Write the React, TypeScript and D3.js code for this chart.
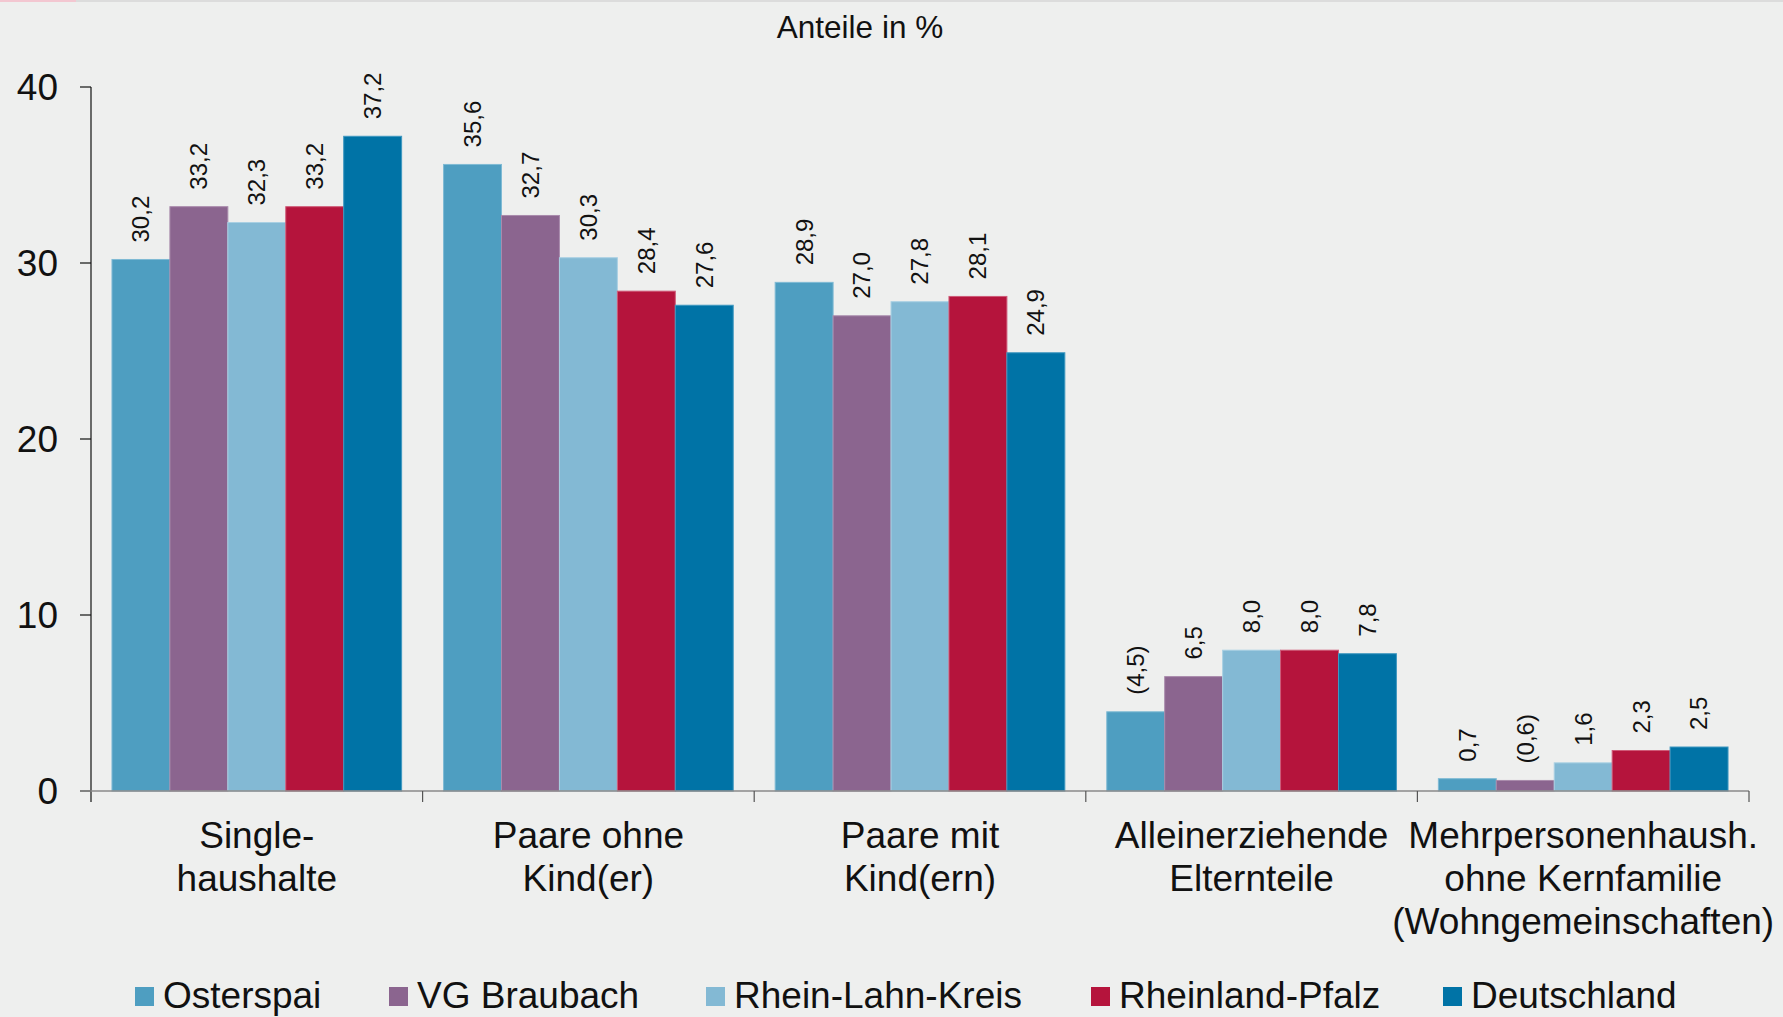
import * as React from "react";
import * as d3 from "d3";

const categories = [
  ["Single-", "haushalte"],
  ["Paare ohne", "Kind(er)"],
  ["Paare mit", "Kind(ern)"],
  ["Alleinerziehende", "Elternteile"],
  ["Mehrpersonenhaush.", "ohne Kernfamilie", "(Wohngemeinschaften)"],
];

const seriesNames = ["Osterspai", "VG Braubach", "Rhein-Lahn-Kreis", "Rheinland-Pfalz", "Deutschland"];
const seriesColors = ["#4e9ec1", "#8b658f", "#83b9d4", "#b5143c", "#0073a6"];
const seriesEdges = ["#7fbad4", "#a98bac", "#a9d0e3", "#cf5a77", "#3f98c0"];

// values per series, one entry per category
const osterspai = [30.2, 35.6, 28.9, 4.5, 0.7];
const vgBraubach = [33.2, 32.7, 27.0, 6.5, 0.6];
const rheinLahnKreis = [32.3, 30.3, 27.8, 8.0, 1.6];
const rheinlandPfalz = [33.2, 28.4, 28.1, 8.0, 2.3];
const deutschland = [37.2, 27.6, 24.9, 7.8, 2.5];
const seriesValues = [osterspai, vgBraubach, rheinLahnKreis, rheinlandPfalz, deutschland];

// values shown in brackets (small sample)
const bracketed = [
  [false, false, false, true, false],
  [false, false, false, false, true],
  [false, false, false, false, false],
  [false, false, false, false, false],
  [false, false, false, false, false],
];

const yTicks = [0, 10, 20, 30, 40];

const legendX = [135, 389, 706, 1091, 1443];

const width = 1783;
const height = 1017;
const font = "'Liberation Sans', Arial, sans-serif";

export default function App() {
  const left = 91;
  const right = 1749;
  const top = 87;
  const bottom = 791;

  const x0 = d3
    .scaleBand<number>()
    .domain(categories.map((_, i) => i))
    .range([left, right])
    .paddingInner(0)
    .paddingOuter(0);

  const x1 = d3
    .scaleBand<number>()
    .domain(seriesNames.map((_, i) => i))
    .range([0, x0.bandwidth()])
    .paddingOuter(0.362)
    .paddingInner(0);

  const y = d3.scaleLinear().domain([0, 40]).range([bottom, top]);

  const fmt = (v: number) => v.toFixed(1).replace(".", ",");

  return (
    <div style={{ position: "absolute", left: 0, top: 0 }}>
      <svg width={width} height={height} style={{ display: "block", background: "#eeefee", fontFamily: font }}>
        <rect x={0} y={0} width={width} height={2} fill="#dcdcdc" />
        <rect x={0} y={0} width={76} height={2} fill="#f3c7d1" />

        <text x={860} y={38} textAnchor="middle" fontSize={31.5} fill="#111">
          Anteile in %
        </text>

        {/* y axis */}
        <line x1={left} x2={left} y1={top} y2={802} stroke="#111" strokeWidth={1.2} />
        {yTicks.map((t) => (
          <g key={t}>
            <line x1={80} x2={left} y1={y(t)} y2={y(t)} stroke="#111" strokeWidth={1.2} />
            <text x={58} y={y(t)} dy="0.35em" textAnchor="end" fontSize={37} fill="#111">
              {t}
            </text>
          </g>
        ))}

        {/* bars */}
        {categories.map((cat, ci) => (
          <g key={ci} transform={`translate(${x0(ci)},0)`}>
            {seriesValues.map((vals, si) => {
              const v = vals[ci];
              const bx = x1(si)!;
              const by = y(v);
              const label = bracketed[si][ci] ? `(${fmt(v)})` : fmt(v);
              return (
                <g key={si}>
                  <rect
                    x={bx}
                    y={by}
                    width={x1.bandwidth()}
                    height={bottom - by}
                    fill={seriesColors[si]}
                    stroke={seriesEdges[si]}
                    strokeWidth={1}
                  />
                  <text
                    transform={`translate(${bx + x1.bandwidth() / 2},${by - 17}) rotate(-90)`}
                    dy="0.35em"
                    fontSize={24}
                    fill="#111"
                  >
                    {label}
                  </text>
                </g>
              );
            })}
          </g>
        ))}

        {/* x axis */}
        <line x1={80} x2={right} y1={bottom} y2={bottom} stroke="#8a8a8a" strokeWidth={1.5} />
        {categories.map((_, ci) => (
          <line
            key={ci}
            x1={x0(ci)! + x0.bandwidth()}
            x2={x0(ci)! + x0.bandwidth()}
            y1={bottom}
            y2={802}
            stroke="#555"
            strokeWidth={1.2}
          />
        ))}
        {categories.map((lines, ci) => (
          <text key={ci} textAnchor="middle" fontSize={37} fill="#111">
            {lines.map((l, li) => (
              <tspan key={li} x={x0(ci)! + x0.bandwidth() / 2} y={848 + li * 43}>
                {l}
              </tspan>
            ))}
          </text>
        ))}

        {/* legend */}
        {seriesNames.map((name, si) => (
          <g key={name}>
            <rect x={legendX[si]} y={987} width={19} height={19} fill={seriesColors[si]} />
            <text x={legendX[si] + 28} y={1008} fontSize={37} fill="#111">
              {name}
            </text>
          </g>
        ))}
      </svg>
    </div>
  );
}
